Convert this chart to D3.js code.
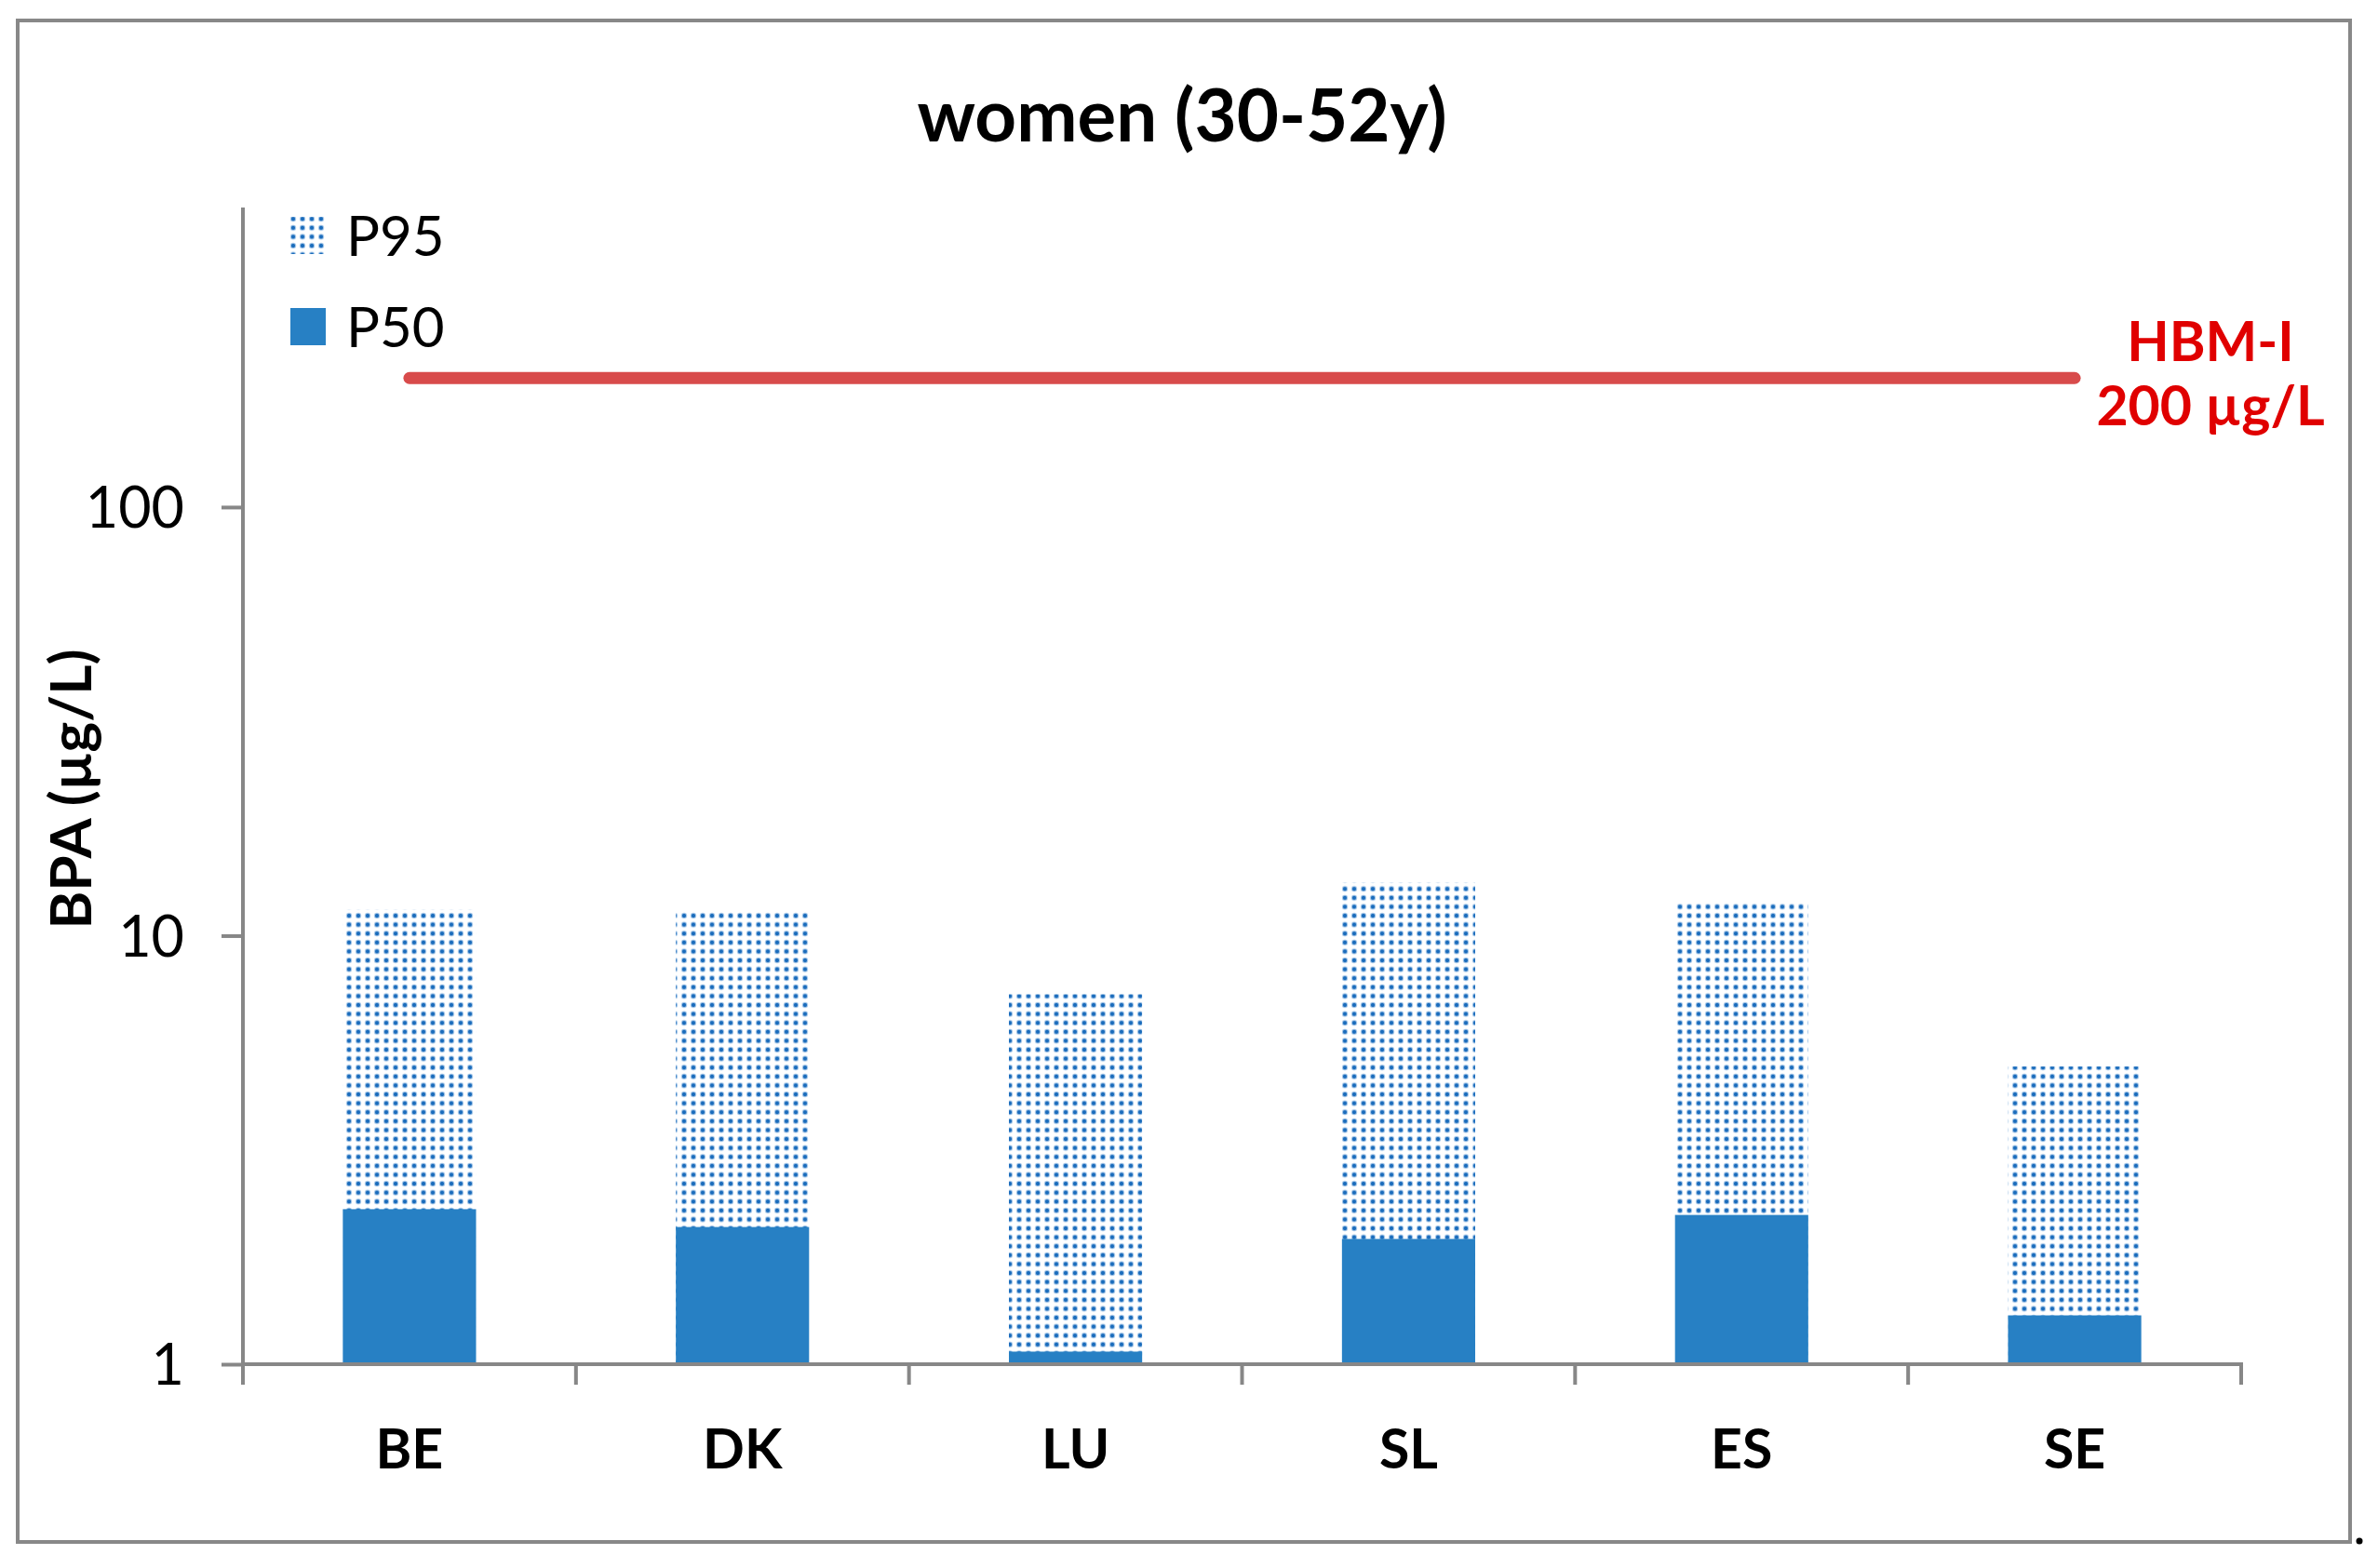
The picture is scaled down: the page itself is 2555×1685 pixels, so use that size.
<!DOCTYPE html>
<html>
<head>
<meta charset="utf-8">
<script src="https://cdn.jsdelivr.net/npm/d3@7"></script>
<style>
  html, body { margin: 0; padding: 0; background: #fff; }
  svg { display: block; }
</style>
</head>
<body>
<svg id="chart" width="2555" height="1685"></svg>
<script>
// ---- data ----
const categories = ["BE", "DK", "LU", "SL", "ES", "SE"];
const p95Values = [11.5, 11.4, 7.3, 13.3, 11.9, 4.95];
const p50Values = [2.30, 2.09, 1.07, 1.96, 2.23, 1.30];
const hbmValue = 200;
const yTickValues = [1, 10, 100];
const legendLabels = ["P95", "P50"];
const titleText = "women (30-52y)";
const yTitleText = "BPA (µg/L)";
const hbmLabel = ["HBM-I", "200 µg/L"];

// ---- layout ----
const svg = d3.select("#chart");
const font = "Lato, 'Open Sans', sans-serif";
const blue = "#2780c4";
const axisColor = "#878787";

const x0 = 261, x1 = 2408, yTop = 223, yBot = 1466;

const x = d3.scaleBand().domain(categories).range([x0, x1]).padding(0);
const y = d3.scaleLog().domain([1, 500]).range([yBot, yTop]);
const barW = x.bandwidth() * 0.4;

// pattern
const defs = svg.append("defs");
const pat = defs.append("pattern")
  .attr("id", "dots").attr("patternUnits", "userSpaceOnUse")
  .attr("width", 10).attr("height", 9.6);
pat.append("circle").attr("cx", 5).attr("cy", 4.8).attr("r", 3.2).attr("fill", "#a6c7e8");
pat.append("circle").attr("cx", 5).attr("cy", 4.8).attr("r", 2.1).attr("fill", "#1a6cbc");

// frame
svg.append("rect").attr("x", 19).attr("y", 22).attr("width", 2506).attr("height", 1635)
  .attr("fill", "none").attr("stroke", "#888").attr("stroke-width", 4);
svg.append("circle").attr("cx", 2535).attr("cy", 1656).attr("r", 3.5).attr("fill", "#000");

// title
svg.append("text").attr("x", 1270).attr("y", 152).attr("text-anchor", "middle")
  .attr("font-family", font).attr("font-weight", "bold").attr("font-size", 78)
  .attr("fill", "#000").text(titleText);

// bars P95
svg.append("g").selectAll("rect").data(categories).join("rect")
  .attr("x", (d) => x(d) + (x.bandwidth() - barW) / 2)
  .attr("width", barW)
  .attr("y", (d, i) => y(p95Values[i]))
  .attr("height", (d, i) => y(1) - y(p95Values[i]))
  .attr("fill", "url(#dots)");

// bars P50
svg.append("g").selectAll("rect").data(categories).join("rect")
  .attr("x", (d) => x(d) + (x.bandwidth() - barW) / 2)
  .attr("width", barW)
  .attr("y", (d, i) => y(p50Values[i]))
  .attr("height", (d, i) => y(1) - y(p50Values[i]))
  .attr("fill", blue);

// y axis
const yAxis = d3.axisLeft(y).tickValues(yTickValues).tickFormat(d3.format("d")).tickSize(23).tickPadding(40);
const gy = svg.append("g").attr("transform", `translate(${x0},0)`).call(yAxis);
gy.select(".domain").attr("stroke", axisColor).attr("stroke-width", 4).attr("d", `M0,${yTop}V${yBot}`);
gy.selectAll(".tick line").attr("stroke", axisColor).attr("stroke-width", 4);
gy.selectAll(".tick text").attr("font-family", font).attr("font-size", 61).attr("fill", "#000").attr("dy", "0.36em");

// x axis
const xTicks = categories.map((c) => x(c)).concat([x1]);
const gx = svg.append("g").attr("transform", `translate(0,${yBot})`);
gx.append("line").attr("x1", x0 - 2).attr("x2", x1 + 2).attr("y1", 0).attr("y2", 0)
  .attr("stroke", axisColor).attr("stroke-width", 4);
gx.selectAll("line.tk").data(xTicks).join("line").attr("class", "tk")
  .attr("x1", (d) => d).attr("x2", (d) => d).attr("y1", 0).attr("y2", 22)
  .attr("stroke", axisColor).attr("stroke-width", 4);
gx.selectAll("text").data(categories).join("text")
  .attr("x", (d) => x(d) + x.bandwidth() / 2).attr("y", 112)
  .attr("text-anchor", "middle").attr("font-family", font).attr("font-weight", "bold")
  .attr("font-size", 59).attr("fill", "#000").text((d) => d);

// y title
svg.append("text").attr("transform", "translate(98,848) rotate(-90)")
  .attr("text-anchor", "middle").attr("font-family", font).attr("font-weight", "bold")
  .attr("font-size", 62).attr("fill", "#000").text(yTitleText);

// HBM line
const xFirst = x(categories[0]) + x.bandwidth() / 2;
const xLast = x(categories[categories.length - 1]) + x.bandwidth() / 2;
svg.append("line").attr("x1", xFirst).attr("x2", xLast).attr("y1", y(hbmValue)).attr("y2", y(hbmValue))
  .attr("stroke", "#d84b4b").attr("stroke-width", 13).attr("stroke-linecap", "round");
svg.append("text").attr("x", 2375).attr("y", 388).attr("text-anchor", "middle")
  .attr("font-family", font).attr("font-weight", "bold").attr("font-size", 59)
  .attr("fill", "#e00000").text(hbmLabel[0]);
svg.append("text").attr("x", 2375).attr("y", 457).attr("text-anchor", "middle")
  .attr("font-family", font).attr("font-weight", "bold").attr("font-size", 59)
  .attr("fill", "#e00000").text(hbmLabel[1]);

// legend
const legY = [233, 331];
const lg = svg.append("g");
lg.selectAll("rect").data(legendLabels).join("rect")
  .attr("x", 312).attr("y", (d, i) => legY[i]).attr("width", 38).attr("height", 40)
  .attr("fill", (d, i) => i === 0 ? "url(#dots)" : blue);
lg.selectAll("text").data(legendLabels).join("text")
  .attr("x", 372).attr("y", (d, i) => legY[i] + 42)
  .attr("font-family", font).attr("font-size", 60).attr("fill", "#000").text((d) => d);
</script>
</body>
</html>
